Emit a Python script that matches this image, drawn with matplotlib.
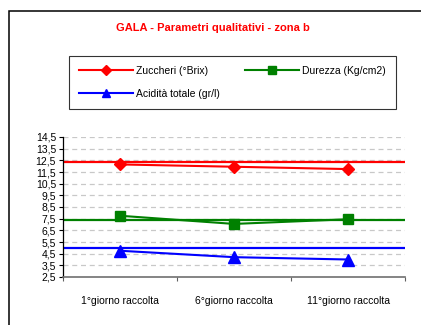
import matplotlib
matplotlib.use("Agg")
import numpy as np
import matplotlib.pyplot as plt
from matplotlib.patches import Rectangle

plt.rcParams['font.family'] = ['Liberation Sans', 'DejaVu Sans']

categories = ["1°giorno raccolta", "6°giorno raccolta", "11°giorno raccolta"]
zuccheri = [12.15, 11.95, 11.75]
durezza = [7.75, 7.05, 7.45]
acidita = [4.75, 4.2, 4.0]
# horizontal reference levels
ref_zuccheri = 12.35
ref_durezza = 7.4
ref_acidita = 5.0
yticks = [2.5, 3.5, 4.5, 5.5, 6.5, 7.5, 8.5, 9.5, 10.5, 11.5, 12.5, 13.5, 14.5]

fig = plt.figure(figsize=(4.21, 3.25), dpi=100)
W, H = 421.0, 325.0

# outer chart frame (runs off the right and bottom edge)
fig.patches.append(Rectangle((9 / W, -0.05), 1.1, 1 - 11 / H + 0.05,
                             transform=fig.transFigure, fill=False,
                             edgecolor="black", linewidth=1.1))

ax = fig.add_axes([63 / W, 1 - 277 / H, (405 - 63) / W, (277 - 137) / H])
x = np.arange(len(categories)) + 0.5

for yv in yticks[1:]:
    ax.axhline(yv, color="#c8c8c8", linewidth=0.9, dashes=(4, 3), zorder=0)

ax.plot([0, 3], [ref_zuccheri] * 2, color="red", linewidth=1.6)
ax.plot([0, 3], [ref_durezza] * 2, color="green", linewidth=1.6)
ax.plot([0, 3], [ref_acidita] * 2, color="blue", linewidth=1.6)

l1, = ax.plot(x, zuccheri, color="red", marker="D", markersize=6.5,
              linewidth=1.5, label="Zuccheri (°Brix)")
l2, = ax.plot(x, durezza, color="green", marker="s", markersize=7.5,
              linewidth=1.5, label="Durezza (Kg/cm2)")
l3, = ax.plot(x, acidita, color="blue", marker="^", markersize=8.5,
              linewidth=1.5, label="Acidità totale (gr/l)")

ax.set_xlim(0, 3)
ax.set_ylim(2.5, 14.5)
ax.set_yticks(yticks)
ax.set_yticklabels([str(v).replace(".", ",") for v in yticks])
ax.set_xticks([0, 1, 2, 3])
ax.set_xticklabels([])
ax.set_xticks(x, minor=True)
ax.set_xticklabels(categories, minor=True)
ax.tick_params(axis="x", which="minor", length=0, pad=14, labelsize=7.5)
ax.tick_params(axis="x", which="major", length=3, color="#606060")
ax.tick_params(axis="y", length=3, labelsize=7.5, pad=2)

for s in ["top", "right"]:
    ax.spines[s].set_visible(False)
ax.spines["bottom"].set_color("#707070")
ax.spines["bottom"].set_linewidth(1.2)
ax.spines["left"].set_color("black")
ax.spines["left"].set_linewidth(0.9)

# column-major order: Zuccheri / Acidità in col 1, Durezza in col 2
leg = fig.legend(handles=[l1, l3, l2], ncol=2, loc="upper left",
                 bbox_to_anchor=(69 / W, 1 - 59 / H, 327 / W, 0.01),
                 mode="expand", fontsize=7.5, markerscale=0.75,
                 frameon=True, fancybox=False, handlelength=5.2,
                 handletextpad=0.3, borderpad=0.95, labelspacing=1.25,
                 borderaxespad=0)
leg.get_frame().set_edgecolor("black")
leg.get_frame().set_linewidth(0.8)

fig.text(213 / W, 1 - 28 / H, "GALA - Parametri qualitativi - zona b",
         color="red", fontsize=8, fontweight="bold", ha="center", va="center")

fig.savefig("out.png", dpi=100)
